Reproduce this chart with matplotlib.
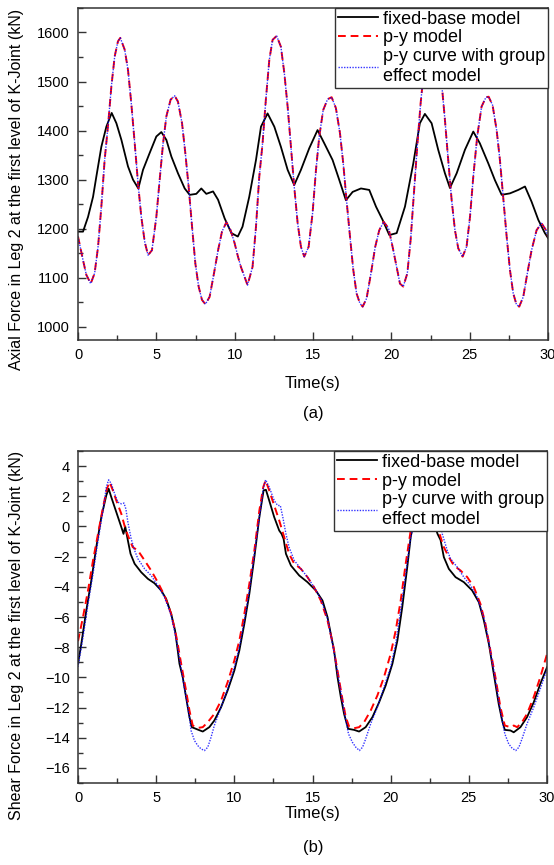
import numpy as np
import matplotlib
matplotlib.use("Agg")
import matplotlib.pyplot as plt
from matplotlib.ticker import MultipleLocator

plt.rcParams['font.family'] = ['Liberation Sans', 'DejaVu Sans']

# ---- (a) axial force ----
t_fixed_a = [0, 0.32, 0.64, 0.96, 1.17, 1.49, 1.81, 2.15, 2.45, 2.77, 3.19, 3.51, 3.85, 4.15,
             4.57, 5.0, 5.32, 5.64, 5.96, 6.38, 6.81, 7.13, 7.55, 7.87, 8.19, 8.62, 8.94, 9.36,
             9.79, 10.2, 10.5, 10.93, 11.36, 11.68, 12.1, 12.53, 12.95, 13.38, 13.8, 14.23,
             14.76, 15.29, 15.72, 16.25, 16.68, 17.1, 17.53, 18.06, 18.59, 19.02, 19.44, 19.87,
             20.34, 20.87, 21.4, 21.82, 22.14, 22.57, 22.99, 23.42, 23.74, 24.17, 24.7, 25.23,
             25.65, 26.19, 26.61, 27.04, 27.57, 28.1, 28.53, 28.95, 29.38, 29.8, 30.0]
fixed_a = [1194, 1194, 1224, 1265, 1306, 1367, 1408, 1436, 1415, 1381, 1327, 1300, 1282, 1320,
           1354, 1388, 1397, 1381, 1347, 1313, 1282, 1269, 1271, 1282, 1271, 1276, 1259, 1221,
           1191, 1184, 1204, 1265, 1340, 1408, 1435, 1408, 1367, 1320, 1289, 1320,
           1364, 1401, 1374, 1340, 1299, 1258, 1275, 1282, 1279, 1245, 1218, 1187,
           1191, 1245, 1333, 1415, 1434, 1415, 1361, 1313, 1283, 1313, 1361, 1398,
           1374, 1333, 1299, 1269, 1272, 1279, 1286, 1255, 1218, 1191, 1181]

t_py_a = [0, 0.32, 0.53, 0.81, 1.06, 1.28, 1.49, 1.70, 1.91, 2.13, 2.34, 2.55, 2.70, 2.98, 3.19,
          3.40, 3.62, 3.83, 4.04, 4.26, 4.47, 4.72, 5.0, 5.21, 5.43, 5.64, 5.91, 6.17, 6.38,
          6.64, 6.85, 7.06, 7.28, 7.49, 7.70, 7.91, 8.13, 8.40, 8.68, 8.94, 9.19, 9.47, 9.74,
          10.0, 10.21, 10.4, 10.82, 11.14, 11.36, 11.57, 11.78, 11.99, 12.21, 12.42, 12.68,
          12.95, 13.17, 13.38, 13.59, 13.8, 14.02, 14.23, 14.44, 14.72, 14.97, 15.19, 15.4,
          15.65, 15.93, 16.19, 16.46, 16.72, 16.93, 17.14, 17.36, 17.57, 17.78, 17.99, 18.17,
          18.42, 18.7, 18.97, 19.23, 19.51, 19.82, 20.08, 20.29, 20.55, 20.76, 21.02, 21.23,
          21.44, 21.65, 21.87, 22.04, 22.3, 22.7, 23.0, 23.2, 23.42, 23.63, 23.85, 24.06,
          24.27, 24.55, 24.8, 25.02, 25.23, 25.48, 25.76, 26.04, 26.21, 26.46, 26.72, 26.93,
          27.14, 27.36, 27.57, 27.78, 27.99, 28.16, 28.42, 28.68, 28.95, 29.27, 29.59, 29.87, 30.0]
py_a = [1184, 1136, 1106, 1088, 1109, 1163, 1245, 1340, 1408, 1490, 1551, 1582, 1589, 1565, 1524,
        1456, 1374, 1293, 1224, 1173, 1146, 1156, 1224, 1299, 1374, 1429, 1463, 1471, 1459,
        1415, 1354, 1286, 1204, 1129, 1082, 1055, 1046, 1061, 1109, 1156, 1194, 1213, 1197,
        1170, 1143, 1122, 1085, 1122, 1204, 1306, 1374, 1463, 1544, 1585, 1593,
        1571, 1517, 1449, 1367, 1286, 1211, 1163, 1143, 1163, 1231, 1320, 1388,
        1442, 1464, 1468, 1446, 1395, 1333, 1258, 1184, 1116, 1068, 1048, 1041,
        1058, 1109, 1163, 1197, 1214, 1201, 1163, 1129, 1088, 1082, 1109, 1177,
        1272, 1367, 1456, 1510, 1565, 1590, 1560, 1500, 1422, 1340, 1258, 1197,
        1160, 1143, 1163, 1224, 1306, 1388, 1449, 1468, 1469, 1452, 1401, 1340,
        1265, 1184, 1116, 1068, 1045, 1041, 1061, 1109, 1156, 1197, 1211, 1197, 1184]
# group-effect curve lies on top of the p-y curve in (a)
t_group_a = list(t_py_a)
group_a = list(py_a)

# ---- (b) shear force ----
t_fixed_b = [0, 0.21, 0.53, 0.85, 1.17, 1.49, 1.81, 1.96, 2.13, 2.45, 2.77, 2.91, 3.02, 3.19,
             3.36, 3.62, 4.04, 4.47, 4.89, 5.32, 5.64, 5.96, 6.21, 6.38, 6.49, 6.7, 6.91, 7.13,
             7.28, 7.66, 7.98, 8.4, 8.72, 9.15, 9.57, 10.0, 10.32, 10.64, 10.96, 11.28, 11.6,
             11.87, 12.02, 12.23, 12.55, 12.87, 13.02, 13.15, 13.3, 13.62, 14.15, 14.68, 15.21,
             15.64, 15.96, 16.21, 16.38, 16.6, 16.81, 17.02, 17.28, 17.66, 17.98, 18.4, 18.83,
             19.26, 19.68, 20.11, 20.43, 20.74, 21.06, 21.28, 21.6, 21.9, 22.05, 22.3, 22.6,
             22.9, 23.0, 23.19, 23.4, 23.72, 24.15, 24.68, 25.21, 25.64, 25.96, 26.28, 26.49,
             26.7, 26.91, 27.13, 27.3, 27.66, 27.87, 28.3, 28.72, 29.15, 29.57, 30.0]
fixed_b = [-9.1, -7.78, -5.57, -3.58, -1.37, 0.62, 2.06, 2.5, 1.94, 0.95, -0.04, -0.49, 0.0, -0.93,
           -1.81, -2.47, -3.03, -3.47, -3.76, -4.24, -4.8, -5.79, -6.9, -8.22, -9.1, -9.99, -11.3, -12.64,
           -13.3, -13.46, -13.59, -13.3, -12.86, -11.98, -10.87, -9.55, -8.22, -6.45, -4.46, -2.03, 0.62,
           2.39, 2.43, 1.72, 0.62, -0.27, -0.49, -0.82, -1.81, -2.59, -3.25, -3.69, -4.24,
           -4.91, -6.01, -7.34, -8.22, -9.99, -11.3, -12.42, -13.41, -13.48, -13.59, -13.3, -12.64,
           -11.65, -10.54, -9.1, -7.56, -5.35, -2.7, -0.71, 1.0, 2.1, 2.45, 1.7, 0.8,
           -0.2, -0.5, -0.9, -2.03, -2.81, -3.36, -3.69, -4.24, -5.02, -6.23, -7.78, -9.1,
           -10.43, -11.76, -12.86, -13.48, -13.52, -13.64, -13.3, -12.64, -11.65, -10.43, -9.33]

t_py_b = [0, 0.32, 0.64, 0.96, 1.28, 1.6, 1.85, 2.02, 2.23, 2.45, 2.77, 3.0, 3.19, 3.5, 3.83,
          4.26, 4.68, 5.1, 5.53, 5.96, 6.3, 6.6, 6.91, 7.13, 7.34, 7.66, 7.98, 8.3, 8.72, 9.15,
          9.57, 10.0, 10.32, 10.64, 10.96, 11.28, 11.6, 11.85, 12.0, 12.23, 12.55, 12.87, 13.19,
          13.5, 13.83, 14.26, 14.68, 15.1, 15.53, 15.96, 16.3, 16.6, 16.91, 17.13, 17.34, 17.66,
          17.98, 18.3, 18.72, 19.15, 19.57, 20.0, 20.32, 20.64, 20.96, 21.28, 21.6, 21.85, 22.0,
          22.23, 22.55, 22.87, 23.19, 23.4, 23.72, 24.04, 24.47, 24.9, 25.32, 25.74, 26.06,
          26.38, 26.7, 27.02, 27.3, 27.66, 27.87, 28.09, 28.4, 28.72, 29.15, 29.57, 30.0]
py_b = [-7.6, -6.0, -4.24, -2.25, -0.49, 1.28, 2.5, 2.94, 2.39, 1.72, 0.84, -0.04, -0.6, -1.37, -1.59,
        -2.25, -2.92, -3.69, -4.57, -5.79, -7.34, -9.1, -10.87, -12.2, -13.19, -13.35, -13.3, -12.97, -12.42, -11.54,
        -10.32, -8.88, -7.56, -5.79, -3.8, -1.59, 1.06, 2.61, 3.05, 2.39, 1.39, 0.4, -0.71,
        -1.81, -2.47, -2.81, -3.36, -4.02, -4.91, -6.23, -7.78, -9.55, -11.43, -12.64, -13.26, -13.37,
        -13.3, -12.97, -12.2, -11.2, -9.99, -8.44, -6.9, -4.91, -2.47, -0.27, 1.3, 2.6, 2.95,
        2.4, 1.4, 0.4, -0.7, -1.37, -2.03, -2.59, -2.92, -3.36, -4.02, -5.13, -6.45,
        -8.22, -9.99, -11.98, -13.19, -13.3, -13.19, -13.3, -12.97, -12.42, -11.3, -9.99, -8.45]

t_group_b = [0, 0.32, 0.64, 0.96, 1.28, 1.6, 1.81, 1.96, 2.13, 2.34, 2.55, 2.77, 2.94, 3.06, 3.19,
             3.4, 3.62, 3.83, 4.26, 4.68, 5.1, 5.53, 5.96, 6.3, 6.6, 6.91, 7.13, 7.23, 7.45, 7.66,
             7.87, 8.09, 8.3, 8.51, 8.72, 9.15, 9.57, 10.0, 10.32, 10.64, 10.96, 11.28, 11.6,
             11.87, 12.0, 12.23, 12.55, 12.77, 12.94, 13.1, 13.3, 13.5, 13.83, 14.26, 14.68, 15.1,
             15.53, 15.96, 16.3, 16.6, 16.91, 17.13, 17.3, 17.55, 17.77, 18.0, 18.2, 18.4, 18.72,
             19.15, 19.57, 20.0, 20.32, 20.64, 20.96, 21.28, 21.6, 21.87, 21.97, 22.2, 22.55, 22.9,
             23.1, 23.3, 23.62, 23.83, 24.26, 24.68, 25.1, 25.53, 25.96, 26.3, 26.6, 26.91, 27.13,
             27.3, 27.55, 27.77, 28.0, 28.2, 28.4, 28.72, 29.15, 29.57, 30.0]
group_b = [-9.3, -7.34, -5.13, -3.14, -0.93, 1.06, 2.61, 3.09, 2.83, 2.17, 1.61, 1.5, 1.55, 1.17, 0.29,
           -0.82, -1.59, -2.14, -2.81, -3.25, -3.91, -4.68, -5.9, -7.56, -9.44, -11.31, -12.64, -13.52, -14.19, -14.52,
           -14.74, -14.85, -14.63, -13.97, -13.19, -11.98, -10.76, -9.33, -8.0, -6.23, -4.24, -1.81, 0.62,
           2.61, 3.09, 2.61, 1.72, 1.39, 1.39, 0.62, -0.49, -1.37, -2.25, -2.81, -3.36, -4.02,
           -4.8, -6.12, -7.89, -9.66, -11.54, -12.86, -13.74, -14.3, -14.63, -14.85, -14.63, -14.08, -13.08,
           -11.98, -10.65, -9.33, -7.78, -5.57, -3.14, -0.71, 0.62, 2.61, 3.1, 2.6, 1.7, 1.4,
           0.6, -0.5, -1.59, -2.14, -2.7, -3.36, -3.91, -4.68, -6.01, -7.78, -9.55, -11.54, -12.86,
           -13.74, -14.41, -14.7, -14.85, -14.63, -14.08, -13.08, -11.98, -10.76, -9.44]

labels = ['fixed-base model', 'p-y model', 'p-y curve with group\neffect model']

fig = plt.figure(figsize=(5.54, 8.65), dpi=100)
ax1 = fig.add_axes([0.1408, 0.6069, 0.8484, 0.3839])
ax2 = fig.add_axes([0.1408, 0.0948, 0.8466, 0.3838])


def draw(ax, tf, vf, tp, vp, tg, vg):
    ax.plot(tf, vf, color='black', lw=1.3, label=labels[0])
    ax.plot(tp, vp, color='red', lw=1.4, ls=(0, (4, 2.5)), label=labels[1])
    ax.plot(tg, vg, color='blue', lw=1.0, ls=(0, (1, 1)), alpha=0.8, label=labels[2])
    ax.set_xlim(0, 30)
    ax.xaxis.set_major_locator(MultipleLocator(5))
    ax.xaxis.set_minor_locator(MultipleLocator(2.5))
    ax.tick_params(which='both', direction='in', top=False, right=False,
                   labelsize=10.5, color='#333333', width=1.0)
    ax.tick_params(which='major', length=6, pad=6)
    ax.tick_params(which='minor', length=3.5)
    for s in ax.spines.values():
        s.set_color('#333333')
        s.set_linewidth(1.1)
    leg = ax.legend(loc='upper right', bbox_to_anchor=(1, 1), borderaxespad=0,
                    fontsize=13, fancybox=False, framealpha=1, edgecolor='#333333',
                    handlelength=2.2, handletextpad=0.3, labelspacing=0.1, borderpad=0.15)
    leg.get_frame().set_linewidth(1.0)


draw(ax1, t_fixed_a, fixed_a, t_py_a, py_a, t_group_a, group_a)
ax1.set_ylim(973, 1650)
ax1.yaxis.set_major_locator(MultipleLocator(100))
ax1.yaxis.set_minor_locator(MultipleLocator(50))

draw(ax2, t_fixed_b, fixed_b, t_py_b, py_b, t_group_b, group_b)
ax2.set_ylim(-17, 5)
ax2.yaxis.set_major_locator(MultipleLocator(2))
ax2.yaxis.set_minor_locator(MultipleLocator(1))

fig.text(0.029, 0.7815, 'Axial Force in Leg 2 at the first level of K-Joint (kN)',
         rotation=90, ha='center', va='center', fontsize=11.5)
fig.text(0.029, 0.2659, 'Shear Force in Leg 2 at the first level of K-Joint (kN)',
         rotation=90, ha='center', va='center', fontsize=11.5)
fig.text(0.565, 0.5572, 'Time(s)', ha='center', va='center', fontsize=12)
fig.text(0.565, 0.5225, '(a)', ha='center', va='center', fontsize=12)
fig.text(0.565, 0.0601, 'Time(s)', ha='center', va='center', fontsize=12)
fig.text(0.565, 0.0208, '(b)', ha='center', va='center', fontsize=12)

fig.savefig('out.png', dpi=100)
